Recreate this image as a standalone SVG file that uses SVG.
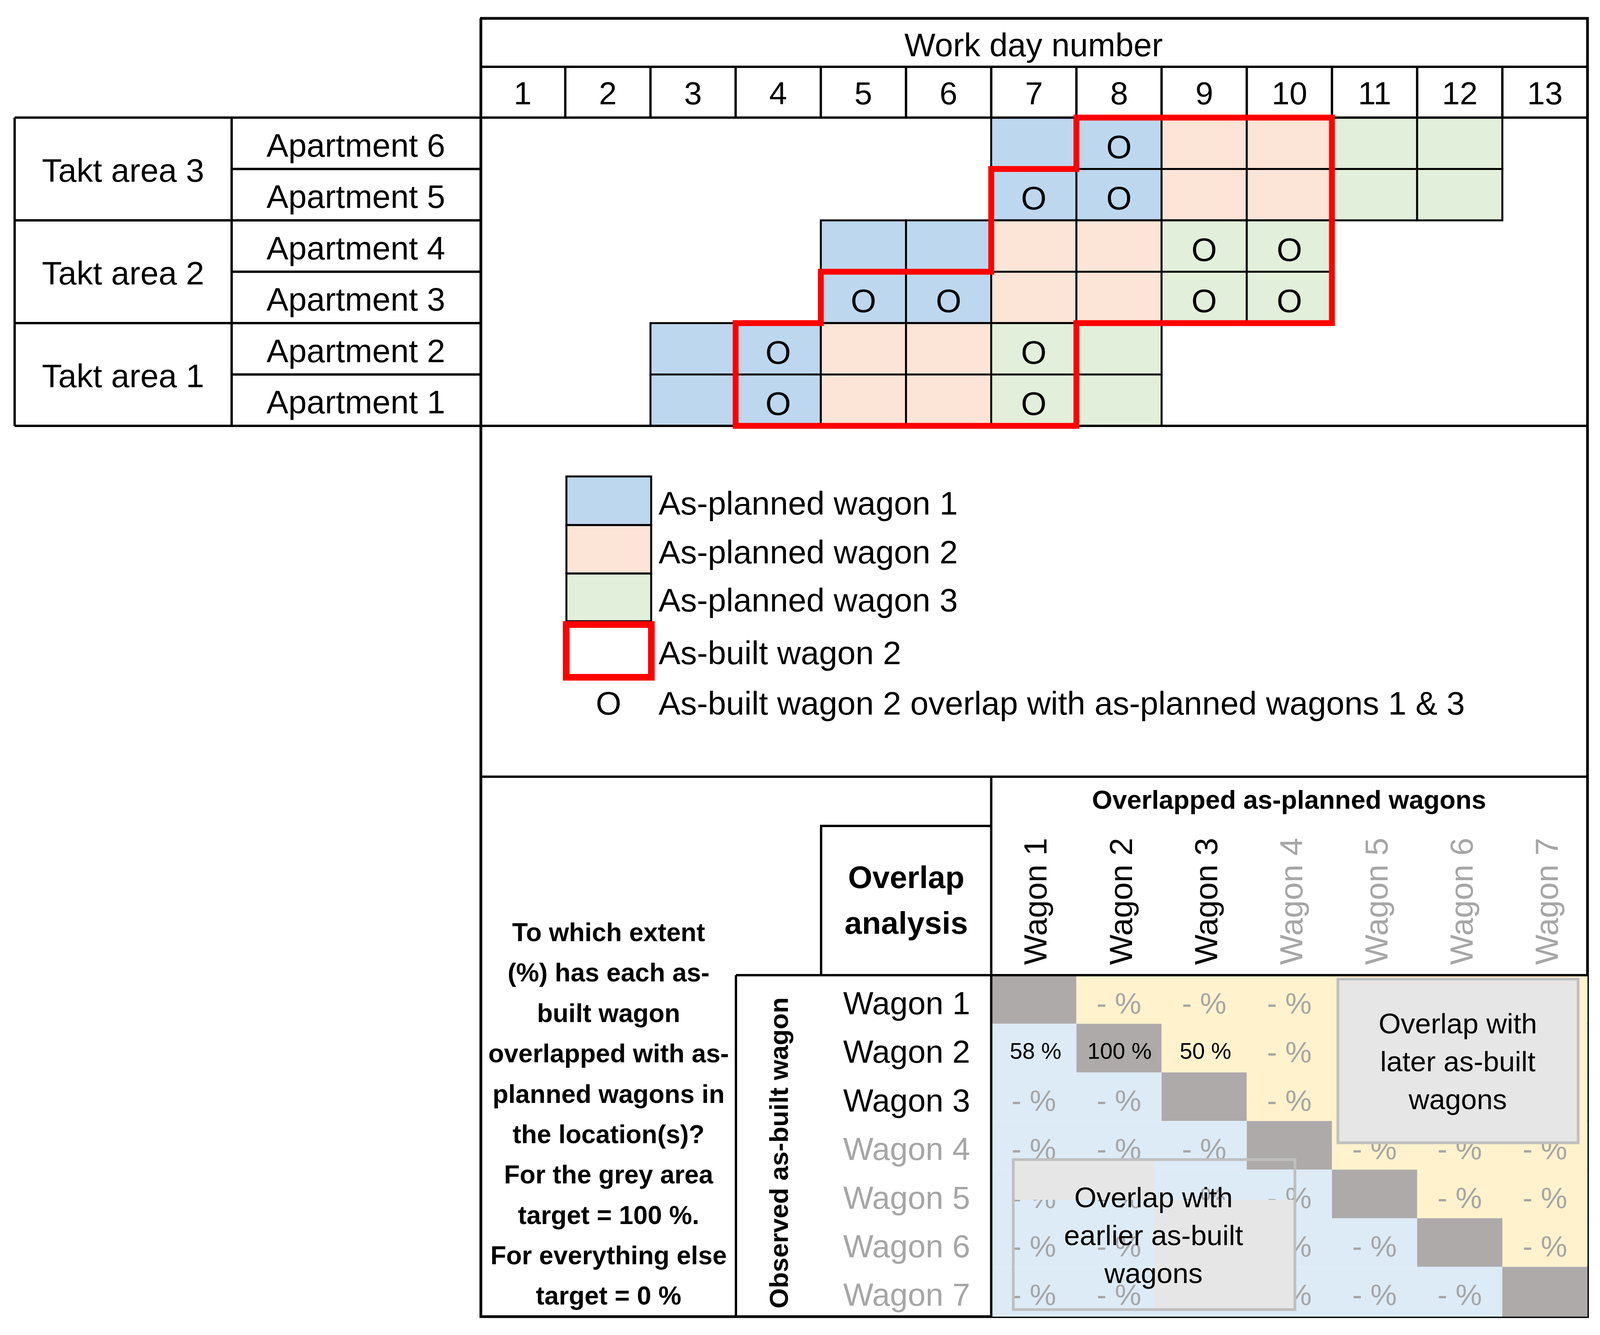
<svg xmlns="http://www.w3.org/2000/svg" width="4111" height="3417" viewBox="0 0 4111 3417">
<style>
text{font-family:"Liberation Sans",Arial,sans-serif;fill:#000}
.c{text-anchor:middle}
.b{font-weight:bold}
.f84{font-size:84px}
.f82{font-size:82px}
.g{fill:#A6A6A6}
.pc{font-size:76px;fill:#A6A6A6;text-anchor:middle}
.num{font-size:58px;text-anchor:middle}
.ln{stroke:#000;stroke-width:6;fill:none}
.ol{stroke:#000;stroke-width:7;fill:none}
.cell{stroke:#000;stroke-width:5}
.bl{fill:#BDD7EE}.pe{fill:#FCE4D6}.gr{fill:#E2EFDA}
.dg{fill:#AEAAAA}.lb{fill:#DDEBF7}.ly{fill:#FFF2CC}
.bx{fill:#E7E6E6;stroke:#BFBFBF;stroke-width:7}
.bxt{font-size:73px;text-anchor:middle}
</style>
<rect width="4111" height="3417" fill="#fff"/>

<g id="schedule-cells">
<!-- Apartment 6 -->
<rect class="cell bl" x="2537.5" y="301" width="218.1" height="131.5"/>
<rect class="cell bl" x="2755.6" y="301" width="218.1" height="131.5"/>
<rect class="cell pe" x="2973.6" y="301" width="218.1" height="131.5"/>
<rect class="cell pe" x="3191.7" y="301" width="218.1" height="131.5"/>
<rect class="cell gr" x="3409.8" y="301" width="218.1" height="131.5"/>
<rect class="cell gr" x="3627.9" y="301" width="218.1" height="131.5"/>
<!-- Apartment 5 -->
<rect class="cell bl" x="2537.5" y="432.5" width="218.1" height="131.5"/>
<rect class="cell bl" x="2755.6" y="432.5" width="218.1" height="131.5"/>
<rect class="cell pe" x="2973.6" y="432.5" width="218.1" height="131.5"/>
<rect class="cell pe" x="3191.7" y="432.5" width="218.1" height="131.5"/>
<rect class="cell gr" x="3409.8" y="432.5" width="218.1" height="131.5"/>
<rect class="cell gr" x="3627.9" y="432.5" width="218.1" height="131.5"/>
<!-- Apartment 4 -->
<rect class="cell bl" x="2101.3" y="564" width="218.1" height="131.5"/>
<rect class="cell bl" x="2319.4" y="564" width="218.1" height="131.5"/>
<rect class="cell pe" x="2537.5" y="564" width="218.1" height="131.5"/>
<rect class="cell pe" x="2755.6" y="564" width="218.1" height="131.5"/>
<rect class="cell gr" x="2973.6" y="564" width="218.1" height="131.5"/>
<rect class="cell gr" x="3191.7" y="564" width="218.1" height="131.5"/>
<!-- Apartment 3 -->
<rect class="cell bl" x="2101.3" y="695.5" width="218.1" height="131.5"/>
<rect class="cell bl" x="2319.4" y="695.5" width="218.1" height="131.5"/>
<rect class="cell pe" x="2537.5" y="695.5" width="218.1" height="131.5"/>
<rect class="cell pe" x="2755.6" y="695.5" width="218.1" height="131.5"/>
<rect class="cell gr" x="2973.6" y="695.5" width="218.1" height="131.5"/>
<rect class="cell gr" x="3191.7" y="695.5" width="218.1" height="131.5"/>
<!-- Apartment 2 -->
<rect class="cell bl" x="1665.2" y="827" width="218.1" height="131.5"/>
<rect class="cell bl" x="1883.2" y="827" width="218.1" height="131.5"/>
<rect class="cell pe" x="2101.3" y="827" width="218.1" height="131.5"/>
<rect class="cell pe" x="2319.4" y="827" width="218.1" height="131.5"/>
<rect class="cell gr" x="2537.5" y="827" width="218.1" height="131.5"/>
<rect class="cell gr" x="2755.6" y="827" width="218.1" height="131.5"/>
<!-- Apartment 1 -->
<rect class="cell bl" x="1665.2" y="958.5" width="218.1" height="131.5"/>
<rect class="cell bl" x="1883.2" y="958.5" width="218.1" height="131.5"/>
<rect class="cell pe" x="2101.3" y="958.5" width="218.1" height="131.5"/>
<rect class="cell pe" x="2319.4" y="958.5" width="218.1" height="131.5"/>
<rect class="cell gr" x="2537.5" y="958.5" width="218.1" height="131.5"/>
<rect class="cell gr" x="2755.6" y="958.5" width="218.1" height="131.5"/>
</g>

<g id="overlap-marks" class="f84">
<text class="c" x="2864.6" y="405">O</text>
<text class="c" x="2646.5" y="536">O</text>
<text class="c" x="2864.6" y="536">O</text>
<text class="c" x="3082.7" y="668">O</text>
<text class="c" x="3300.8" y="668">O</text>
<text class="c" x="2210.3" y="799">O</text>
<text class="c" x="2428.4" y="799">O</text>
<text class="c" x="3082.7" y="799">O</text>
<text class="c" x="3300.8" y="799">O</text>
<text class="c" x="1992.2" y="931">O</text>
<text class="c" x="2646.5" y="931">O</text>
<text class="c" x="1992.2" y="1062">O</text>
<text class="c" x="2646.5" y="1062">O</text>
</g>

<g id="frame">
<path class="ol" d="M1229 47 H4064 V3370 H1231 V47"/>
<path class="ln" d="M1229 171 H4064 M37.5 301 H4064 M37.5 1090 H4064 M1229 1988 H4064"/>
<path class="ln" d="M1447.1 171 V301 M1665.2 171 V301 M1883.2 171 V301 M2101.3 171 V301 M2319.4 171 V301 M2537.5 171 V301 M2755.6 171 V301 M2973.6 171 V301 M3191.7 171 V301 M3409.8 171 V301 M3627.9 171 V301 M3846 171 V301"/>
<path class="ln" d="M37.5 301 V1090 M593 301 V1090 M37.5 564 H1229 M37.5 827 H1229 M593 432.5 H1229 M593 695.5 H1229 M593 958.5 H1229"/>
</g>

<g id="header">
<text class="c f84" x="2646" y="144">Work day number</text>
<g class="f82">
<text class="c" x="1338" y="267">1</text>
<text class="c" x="1556" y="267">2</text>
<text class="c" x="1774" y="267">3</text>
<text class="c" x="1992" y="267">4</text>
<text class="c" x="2210" y="267">5</text>
<text class="c" x="2428" y="267">6</text>
<text class="c" x="2647" y="267">7</text>
<text class="c" x="2865" y="267">8</text>
<text class="c" x="3083" y="267">9</text>
<text class="c" x="3301" y="267">10</text>
<text class="c" x="3519" y="267">11</text>
<text class="c" x="3737" y="267">12</text>
<text class="c" x="3955" y="267">13</text>
</g>
</g>

<g id="locations" class="f84">
<text class="c" x="315" y="465">Takt area 3</text>
<text class="c" x="315" y="728">Takt area 2</text>
<text class="c" x="315" y="991">Takt area 1</text>
<text class="c" x="911" y="401">Apartment 6</text>
<text class="c" x="911" y="532">Apartment 5</text>
<text class="c" x="911" y="664">Apartment 4</text>
<text class="c" x="911" y="795">Apartment 3</text>
<text class="c" x="911" y="927">Apartment 2</text>
<text class="c" x="911" y="1058">Apartment 1</text>
</g>

<g id="as-built-wagon-2">
<path d="M1883.2 1090 H2755.6 V827 H3409.8 V301 H2755.6 V432.5 H2537.5 V695.5 H2101.3 V827 H1883.2 Z" fill="none" stroke="#FF0000" stroke-width="15" stroke-linejoin="miter"/>
</g>

<g id="legend">
<rect class="cell bl" x="1450" y="1219.5" width="217" height="124.5"/>
<rect class="cell pe" x="1450" y="1344" width="217" height="124"/>
<rect class="cell gr" x="1450" y="1468" width="217" height="122"/>
<rect x="1449.5" y="1598.5" width="218" height="135" fill="#fff" stroke="#FF0000" stroke-width="17"/>
<g class="f84">
<text x="1686" y="1317">As-planned wagon 1</text>
<text x="1686" y="1442">As-planned wagon 2</text>
<text x="1686" y="1565">As-planned wagon 3</text>
<text x="1686" y="1700">As-built wagon 2</text>
<text class="c" x="1558" y="1829">O</text>
<text x="1686" y="1829">As-built wagon 2 overlap with as-planned wagons 1 &amp; 3</text>
</g>
</g>

<g id="matrix-cells">
<!-- row 1 -->
<rect class="dg" x="2537.5" y="2496" width="218.1" height="124.4"/>
<rect class="ly" x="2755.6" y="2496" width="1308.4" height="124.4"/>
<!-- row 2 -->
<rect class="lb" x="2537.5" y="2620.4" width="218.1" height="124.5"/>
<rect class="dg" x="2755.6" y="2620.4" width="218.1" height="124.5"/>
<rect class="ly" x="2973.6" y="2620.4" width="1090.4" height="124.5"/>
<!-- row 3 -->
<rect class="lb" x="2537.5" y="2744.9" width="436.1" height="124.4"/>
<rect class="dg" x="2973.6" y="2744.9" width="218.1" height="124.4"/>
<rect class="ly" x="3191.7" y="2744.9" width="872.3" height="124.4"/>
<!-- row 4 -->
<rect class="lb" x="2537.5" y="2869.3" width="654.2" height="124.4"/>
<rect class="dg" x="3191.7" y="2869.3" width="218.1" height="124.4"/>
<rect class="ly" x="3409.8" y="2869.3" width="654.2" height="124.4"/>
<!-- row 5 -->
<rect class="lb" x="2537.5" y="2993.7" width="872.3" height="124.4"/>
<rect class="dg" x="3409.8" y="2993.7" width="218.1" height="124.4"/>
<rect class="ly" x="3627.9" y="2993.7" width="436.1" height="124.4"/>
<!-- row 6 -->
<rect class="lb" x="2537.5" y="3118.1" width="1090.4" height="124.5"/>
<rect class="dg" x="3627.9" y="3118.1" width="218.1" height="124.5"/>
<rect class="ly" x="3846" y="3118.1" width="218" height="124.5"/>
<!-- row 7 -->
<rect class="lb" x="2537.5" y="3242.6" width="1308.5" height="127.4"/>
<rect class="dg" x="3846" y="3242.6" width="218" height="127.4"/>
</g>

<g id="matrix-values">
<text class="pc" x="2864.6" y="2594">- %</text>
<text class="pc" x="3082.7" y="2594">- %</text>
<text class="pc" x="3300.8" y="2594">- %</text>
<text class="num" x="2651" y="2710">58 %</text>
<text class="num" x="2866" y="2710">100 %</text>
<text class="num" x="3086" y="2710">50 %</text>
<text class="pc" x="3300.8" y="2719">- %</text>
<text class="pc" x="2646.5" y="2843">- %</text>
<text class="pc" x="2864.6" y="2843">- %</text>
<text class="pc" x="3300.8" y="2843">- %</text>
<text class="pc" x="2646.5" y="2967">- %</text>
<text class="pc" x="2864.6" y="2967">- %</text>
<text class="pc" x="3082.7" y="2967">- %</text>
<text class="pc" x="3518.8" y="2967">- %</text>
<text class="pc" x="3736.9" y="2967">- %</text>
<text class="pc" x="3955" y="2967">- %</text>
<text class="pc" x="2646.5" y="3092">- %</text>
<text class="pc" x="2864.6" y="3092">- %</text>
<text class="pc" x="3082.7" y="3092">- %</text>
<text class="pc" x="3300.8" y="3092">- %</text>
<text class="pc" x="3736.9" y="3092">- %</text>
<text class="pc" x="3955" y="3092">- %</text>
<text class="pc" x="2646.5" y="3216">- %</text>
<text class="pc" x="2864.6" y="3216">- %</text>
<text class="pc" x="3300.8" y="3216">- %</text>
<text class="pc" x="3518.8" y="3216">- %</text>
<text class="pc" x="3955" y="3216">- %</text>
<text class="pc" x="2646.5" y="3340">- %</text>
<text class="pc" x="2864.6" y="3340">- %</text>
<text class="pc" x="3300.8" y="3340">- %</text>
<text class="pc" x="3518.8" y="3340">- %</text>
<text class="pc" x="3736.9" y="3340">- %</text>
</g>

<g id="later-box">
<rect class="bx" x="3425" y="2506" width="615" height="419"/>
<text class="bxt" x="3732" y="2645">Overlap with</text>
<text class="bxt" x="3732" y="2742">later as-built</text>
<text class="bxt" x="3732" y="2839">wagons</text>
</g>

<g id="earlier-box">
<rect x="2594" y="2968" width="360" height="103" fill="#E7E6E6"/>
<rect x="2954" y="3071" width="361" height="281" fill="#E7E6E6"/>
<rect x="2594" y="2968" width="721" height="384" fill="none" stroke="#BFBFBF" stroke-width="7"/>
<text class="bxt" x="2953" y="3090">Overlap with</text>
<text class="bxt" x="2953" y="3187">earlier as-built</text>
<text class="bxt" x="2953" y="3284">wagons</text>
</g>

<g id="analysis-frame">
<path class="ln" d="M2537.5 1988 V3370 M1884 2496 H4064 M1884 2496 V3370 M2102 2496 V2114 H2537.5"/>
</g>

<g id="analysis-labels">
<text class="c b" x="3300" y="2070" style="font-size:67px">Overlapped as-planned wagons</text>
<g class="f82">
<text class="c" transform="rotate(-90 2679 2307)" x="2679" y="2307">Wagon 1</text>
<text class="c" transform="rotate(-90 2897.6 2307)" x="2897.6" y="2307">Wagon 2</text>
<text class="c" transform="rotate(-90 3115.7 2307)" x="3115.7" y="2307">Wagon 3</text>
<text class="c g" transform="rotate(-90 3333.8 2307)" x="3333.8" y="2307">Wagon 4</text>
<text class="c g" transform="rotate(-90 3551.8 2307)" x="3551.8" y="2307">Wagon 5</text>
<text class="c g" transform="rotate(-90 3769.9 2307)" x="3769.9" y="2307">Wagon 6</text>
<text class="c g" transform="rotate(-90 3988 2307)" x="3988" y="2307">Wagon 7</text>
<text class="c" x="2321" y="2596">Wagon 1</text>
<text class="c" x="2321" y="2720">Wagon 2</text>
<text class="c" x="2321" y="2845">Wagon 3</text>
<text class="c g" x="2321" y="2969">Wagon 4</text>
<text class="c g" x="2321" y="3094">Wagon 5</text>
<text class="c g" x="2321" y="3218">Wagon 6</text>
<text class="c g" x="2321" y="3342">Wagon 7</text>
</g>
<text class="c b" x="2320" y="2273" style="font-size:80px">Overlap</text>
<text class="c b" x="2320" y="2390" style="font-size:80px">analysis</text>
<text class="c b" transform="rotate(-90 2017 2951)" x="2017" y="2951" style="font-size:67px">Observed as-built wagon</text>
<g class="b" style="font-size:66px">
<text class="c" x="1558" y="2409">To which extent</text>
<text class="c" x="1558" y="2512">(%) has each as-</text>
<text class="c" x="1558" y="2616">built wagon</text>
<text class="c" x="1558" y="2719">overlapped with as-</text>
<text class="c" x="1558" y="2823">planned wagons in</text>
<text class="c" x="1558" y="2926">the location(s)?</text>
<text class="c" x="1558" y="3029">For the grey area</text>
<text class="c" x="1558" y="3133">target = 100 %.</text>
<text class="c" x="1558" y="3236">For everything else</text>
<text class="c" x="1558" y="3339">target = 0 %</text>
</g>
</g>
</svg>
